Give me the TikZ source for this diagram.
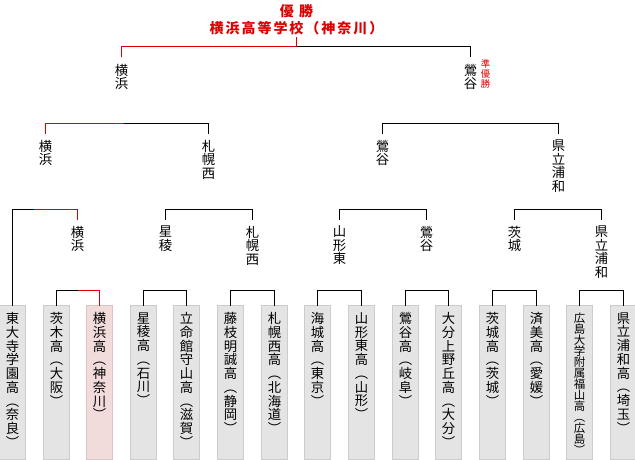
\documentclass[tikz,border=0pt]{standalone}
\usepackage{fontspec}
\setmainfont{Noto Sans CJK JP}
\newfontfamily\titlefont[LetterSpace=14]{Noto Sans CJK JP}

\definecolor{winred}{HTML}{DD0000}
\definecolor{boxfill}{HTML}{E4E4E4}
\definecolor{boxline}{HTML}{CCCCCC}
\definecolor{pinkfill}{HTML}{F2DBDB}
\definecolor{pinkline}{HTML}{DCC4C4}

% vertical text inside a school box
\newcommand{\vtext}[1]{\parbox[c][113pt][t]{19.5pt}{\centering\vspace*{4pt}#1}}

\begin{document}
\begin{tikzpicture}[x=0.75pt,y=-0.75pt,line width=0.75pt,
    school/.style={draw=boxline,fill=boxfill,anchor=north,inner sep=0pt,outer sep=0pt,
        minimum width=19.5pt,minimum height=115.5pt,font=\fontsize{10pt}{10.3pt}\selectfont},
    champ/.style={school,draw=pinkline,fill=pinkfill},
    longschool/.style={school,font=\fontsize{8.6pt}{8.3pt}\selectfont},
    team/.style={anchor=north,align=center,inner xsep=0pt,inner ysep=4.5pt,
        font=\fontsize{10pt}{10.1pt}\selectfont},
    win/.style={color=winred}]
    \useasboundingbox (0,0) rectangle (635,460);

    % Schools
    \foreach \i/\px/\txt/\sty in {
        1/12.5/{東\\大\\寺\\学\\園\\高\\︵\\奈\\良\\︶}/school,
        2/56.5/{茨\\木\\高\\︵\\大\\阪\\︶}/school,
        3/99.5/{横\\浜\\高\\︵\\神\\奈\\川\\︶}/champ,
        4/143.5/{星\\稜\\高\\︵\\石\\川\\︶}/school,
        5/186.5/{立\\命\\館\\守\\山\\高\\︵\\滋\\賀\\︶}/school,
        6/230.5/{藤\\枝\\明\\誠\\高\\︵\\静\\岡\\︶}/school,
        7/274.5/{札\\幌\\西\\高\\︵\\北\\海\\道\\︶}/school,
        8/317.5/{海\\城\\高\\︵\\東\\京\\︶}/school,
        9/361.5/{山\\形\\東\\高\\︵\\山\\形\\︶}/school,
        10/405.5/{鶯\\谷\\高\\︵\\岐\\阜\\︶}/school,
        11/448.5/{大\\分\\上\\野\\丘\\高\\︵\\大\\分\\︶}/school,
        12/492.5/{茨\\城\\高\\︵\\茨\\城\\︶}/school,
        13/536.5/{済\\美\\高\\︵\\愛\\媛\\︶}/school,
        14/579.5/{広\\島\\大\\学\\附\\属\\福\\山\\高\\︵\\広\\島\\︶}/longschool,
        15/623.5/{県\\立\\浦\\和\\高\\︵\\埼\\玉\\︶}/school} {
        \node[\sty] (b\i) at (\px,305.5) {\vtext{\txt}};
    }

    % Round 1 winners
    \node[team] (w1) at (77.5,219.5) {横\\浜};
    \node[team] (w2) at (165.5,219.5) {星\\稜};
    \node[team] (w3) at (252.5,219.5) {札\\幌\\西};
    \node[team] (w4) at (339.5,219.5) {山\\形\\東};
    \node[team] (w5) at (426.5,219.5) {鶯\\谷};
    \node[team] (w6) at (514.5,219.5) {茨\\城};
    \node[team] (w7) at (601.5,219.5) {県\\立\\浦\\和};

    % Quarter finals
    \node[team] (v1) at (45.5,133.5) {横\\浜};
    \node[team] (v2) at (208.5,133.5) {札\\幌\\西};
    \node[team] (v3) at (382.5,133.5) {鶯\\谷};
    \node[team] (v4) at (558.5,133.5) {県\\立\\浦\\和};

    % Semi finals
    \node[team] (u1) at (121.5,57.5) {横\\浜};
    \node[team] (u2) at (470.5,57.5) {鶯\\谷};
    \node[anchor=north,align=center,inner sep=0pt,text=winred,
        font=\fontsize{7pt}{7.5pt}\selectfont] (second) at (485.5,59) {準\\優\\勝};

    % Winner
    \node[anchor=south,align=center,inner sep=1pt,text=winred,
        font=\titlefont\bfseries\fontsize{10.5pt}{12.75pt}\selectfont] (title) at (296.5,37)
        {優\hspace{4pt}勝\\横浜高等学校（神奈川）};

    % Losing halves
    \foreach \a/\b in {4/5,6/7,8/9,10/11,12/13,14/15} {
        \draw (b\a.north) -- ++(0,-15) -| (b\b.north);
    }
    \draw (b2.north) -- ++(0,-15) -- ++(21,0);
    \draw (b1.north) -- ++(0,-96) -- ++(21,0);
    \draw (w2.north) -- ++(0,-10) -| (w3.north);
    \draw (w4.north) -- ++(0,-10) -| (w5.north);
    \draw (w6.north) -- ++(0,-10) -| (w7.north);
    \draw (v2.north) -- ++(0,-10) -- ++(-85,0);
    \draw (v3.north) -- ++(0,-10) -| (v4.north);
    \draw (u2.north) -- ++(0,-11) -- ++(-174,0);

    % Champion's path
    \draw[win] (b3.north) -- ++(0,-15) -- ++(-22,0)
        (w1.north) -- ++(0,-10) -- ++(-44,0)
        (v1.north) -- ++(0,-10) -- ++(78,0)
        (u1.north) -- ++(0,-11) -| (title.south);
\end{tikzpicture}
\end{document}
